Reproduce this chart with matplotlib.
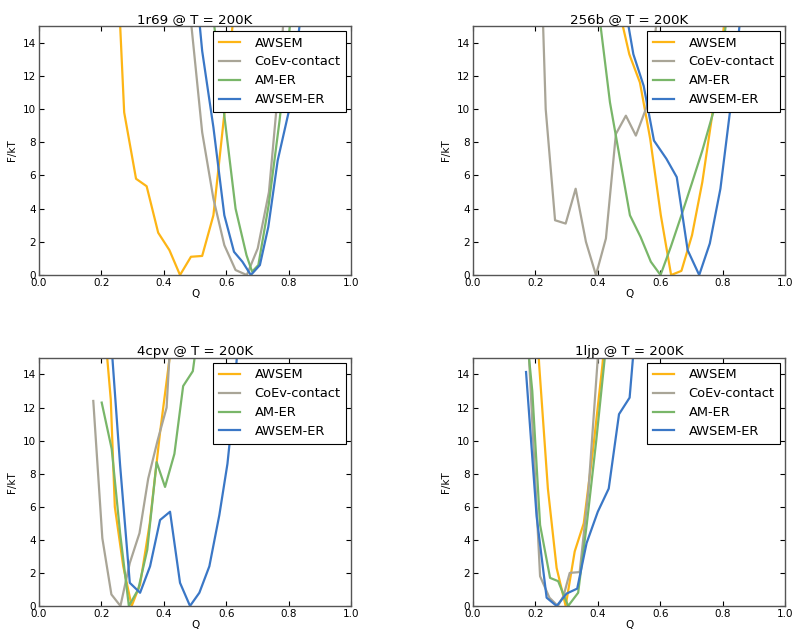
import matplotlib
matplotlib.use('Agg')
from matplotlib import pyplot as plt

# series labels and colours
labels = ['AWSEM', 'CoEv-contact', 'AM-ER', 'AWSEM-ER']
colors = ['#FDB515', '#A9A597', '#79B669', '#3A77C6']

# 1r69
q_1r69_awsem = [0.238, 0.273, 0.311, 0.345, 0.382, 0.418, 0.452, 0.487, 0.523, 0.559, 0.594, 0.630]
f_1r69_awsem = [24, 9.8, 5.8, 5.35, 2.55, 1.5, 0, 1.1, 1.15, 3.6, 9.7, 17]
q_1r69_coev = [0.487, 0.523, 0.559, 0.594, 0.630, 0.666, 0.701, 0.737, 0.773, 0.808]
f_1r69_coev = [15.3, 8.6, 4.6, 1.8, 0.3, 0, 1.6, 5.0, 12.5, 22]
q_1r69_amer = [0.525, 0.559, 0.594, 0.630, 0.665, 0.683, 0.703, 0.736, 0.771, 0.807, 0.84]
f_1r69_amer = [22, 15.5, 9.6, 4.0, 1.2, 0.2, 0.6, 4.2, 9.3, 15.5, 22]
q_1r69_awer = [0.49, 0.523, 0.559, 0.594, 0.625, 0.652, 0.679, 0.708, 0.735, 0.765, 0.80, 0.835, 0.87]
f_1r69_awer = [20, 13.5, 8.9, 3.6, 1.4, 0.8, 0, 0.6, 2.9, 6.9, 9.8, 15, 22]

# 256b
q_256b_awsem = [0.468, 0.501, 0.535, 0.568, 0.602, 0.635, 0.668, 0.702, 0.735, 0.768, 0.802, 0.835]
f_256b_awsem = [16, 13.3, 11.6, 8.2, 3.6, 0, 0.25, 2.4, 5.6, 9.8, 14.6, 20]
q_256b_coev = [0.20, 0.233, 0.263, 0.297, 0.329, 0.362, 0.394, 0.426, 0.458, 0.49, 0.522, 0.556, 0.59, 0.62]
f_256b_coev = [30, 10.0, 3.3, 3.1, 5.2, 2.0, 0, 2.2, 8.5, 9.6, 8.4, 10.1, 15.5, 20]
q_256b_amer = [0.38, 0.407, 0.439, 0.471, 0.503, 0.537, 0.570, 0.601, 0.634, 0.668, 0.701, 0.735, 0.770, 0.803, 0.837]
f_256b_amer = [20, 15.3, 10.4, 7.0, 3.6, 2.3, 0.8, 0, 1.7, 3.6, 5.5, 7.5, 9.8, 14, 19]
q_256b_awer = [0.48, 0.514, 0.547, 0.58, 0.62, 0.653, 0.688, 0.725, 0.759, 0.793, 0.826, 0.86]
f_256b_awer = [17, 13.3, 11.4, 8.1, 7.0, 5.9, 1.5, 0, 1.9, 5.2, 10.2, 16]

# 4cpv
q_4cpv_awsem = [0.205, 0.23, 0.243, 0.27, 0.297, 0.324, 0.355, 0.388, 0.42, 0.45]
f_4cpv_awsem = [18, 12.5, 6.0, 2.4, 0, 1.3, 5.0, 10.5, 15.2, 20]
q_4cpv_coev = [0.174, 0.203, 0.232, 0.261, 0.291, 0.322, 0.35, 0.38, 0.409, 0.438]
f_4cpv_coev = [12.4, 4.1, 0.7, 0, 2.6, 4.4, 7.7, 10.0, 12.0, 22]
q_4cpv_amer = [0.201, 0.233, 0.26, 0.288, 0.318, 0.347, 0.377, 0.404, 0.434, 0.462, 0.493, 0.52]
f_4cpv_amer = [12.3, 9.5, 4.4, 0, 1.0, 3.4, 8.7, 7.2, 9.2, 13.3, 14.2, 18]
q_4cpv_awer = [0.22, 0.26, 0.291, 0.324, 0.356, 0.388, 0.42, 0.452, 0.484, 0.514, 0.546, 0.578, 0.604, 0.62, 0.65]
f_4cpv_awer = [19, 8.5, 1.4, 0.8, 2.4, 5.2, 5.7, 1.4, 0, 0.8, 2.4, 5.5, 8.6, 11.5, 19]

# 1ljp
q_1ljp_awsem = [0.185, 0.212, 0.24, 0.268, 0.297, 0.326, 0.355, 0.385, 0.415, 0.44]
f_1ljp_awsem = [25, 14.6, 7.1, 2.3, 0, 3.3, 5.0, 9.5, 14.6, 20]
q_1ljp_coev = [0.16, 0.185, 0.215, 0.245, 0.272, 0.29, 0.31, 0.342, 0.37, 0.40]
f_1ljp_coev = [22, 13, 1.8, 0.5, 0.0, 0.6, 2.0, 2.05, 7, 15]
q_1ljp_amer = [0.177, 0.19, 0.215, 0.247, 0.273, 0.305, 0.337, 0.365, 0.395, 0.425]
f_1ljp_amer = [15.5, 13.0, 4.9, 1.7, 1.5, 0, 0.8, 5, 10, 15.5]
q_1ljp_awer = [0.17, 0.204, 0.236, 0.268, 0.30, 0.334, 0.364, 0.40, 0.435, 0.468, 0.502, 0.535]
f_1ljp_awer = [14.15, 5.4, 0.5, 0, 0.75, 1.05, 3.8, 5.7, 7.1, 11.6, 12.6, 20]

panels = [
	('1r69 @ T = 200K', [0.04875, 0.5662, 0.39, 0.3927],
		[(q_1r69_awsem, f_1r69_awsem), (q_1r69_coev, f_1r69_coev),
		 (q_1r69_amer, f_1r69_amer), (q_1r69_awer, f_1r69_awer)]),
	('256b @ T = 200K', [0.59125, 0.5662, 0.39, 0.3927],
		[(q_256b_awsem, f_256b_awsem), (q_256b_coev, f_256b_coev),
		 (q_256b_amer, f_256b_amer), (q_256b_awer, f_256b_awer)]),
	('4cpv @ T = 200K', [0.04875, 0.0442, 0.39, 0.3912],
		[(q_4cpv_awsem, f_4cpv_awsem), (q_4cpv_coev, f_4cpv_coev),
		 (q_4cpv_amer, f_4cpv_amer), (q_4cpv_awer, f_4cpv_awer)]),
	('1ljp @ T = 200K', [0.59125, 0.0442, 0.39, 0.3912],
		[(q_1ljp_awsem, f_1ljp_awsem), (q_1ljp_coev, f_1ljp_coev),
		 (q_1ljp_amer, f_1ljp_amer), (q_1ljp_awer, f_1ljp_awer)]),
]

fig = plt.figure(figsize=(8, 6.34), dpi=100)

for title, pos, series in panels:
	ax = fig.add_axes(pos)
	for (q, f), lab, col in zip(series, labels, colors):
		ax.plot(q, f, color=col, lw=1.6, label=lab)
	ax.set_xlim(0, 1)
	ax.set_ylim(0, 15)
	ax.set_xticks([0.0, 0.2, 0.4, 0.6, 0.8, 1.0])
	ax.set_yticks([0, 2, 4, 6, 8, 10, 12, 14])
	ax.tick_params(direction='in', top=True, right=True, labelsize=7.5,
		length=3.5, pad=2, color='black')
	for s in ax.spines.values():
		s.set_color('#555555')
		s.set_linewidth(1.0)
	ax.set_title(title, fontsize=9.6, pad=2)
	ax.set_xlabel('Q', fontsize=7.5, labelpad=1)
	ax.set_ylabel('F/kT', fontsize=7.5, labelpad=4)
	leg = ax.legend(loc='upper right', fontsize=9.4, fancybox=False,
		framealpha=1, edgecolor='black', handlelength=1.6,
		handletextpad=1.1, labelspacing=0.45, borderpad=0.45,
		borderaxespad=0.35)
	leg.get_frame().set_linewidth(0.8)

plt.savefig('out.png', dpi=100)
